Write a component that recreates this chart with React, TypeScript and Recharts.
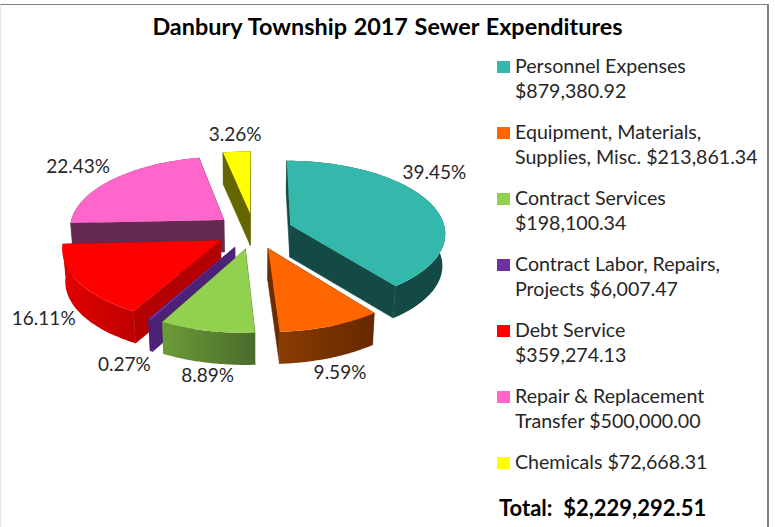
import { PieChart, Pie, Legend } from 'recharts';

const names = [
  'Personnel Expenses\n$879,380.92',
  'Equipment, Materials,\nSupplies, Misc. $213,861.34',
  'Contract Services\n$198,100.34',
  'Contract Labor, Repairs,\nProjects $6,007.47',
  'Debt Service\n$359,274.13',
  'Repair & Replacement\nTransfer $500,000.00',
  'Chemicals $72,668.31',
];
const amounts = [879380.92, 213861.34, 198100.34, 6007.47, 359274.13, 500000.0, 72668.31];
const percents = ['39.45%', '9.59%', '8.89%', '0.27%', '16.11%', '22.43%', '3.26%'];

const topColors = ['#33B8AB', '#FF6600', '#92D050', '#7030A0', '#FF0000', '#FF66CC', '#FFFF00'];
const wallLeft = ['#134A45', '#8A3C00', '#6C9C38', '#4B2275', '#E20000', '#652A52', '#666600'];
const wallRight = ['#134A45', '#662800', '#4A6B2C', '#4B2275', '#BE0000', '#652A52', '#666600'];
const sideColors = ['#134A45', '#6B2C00', '#4A6B2C', '#4B2275', '#B30000', '#652A52', '#666600'];
const labelNudge = [[-4, -30], [17, 55], [-4, 54], [-35, 52], [-44, 39], [-22, -9], [1, -6]];

// drawn back to front, so the table runs counter-clockwise from 12 o'clock
const slices = names
  .map((name, i) => ({
    name,
    value: amounts[i],
    pct: percents[i],
    fill: topColors[i],
    idx: i,
  }))
  .reverse();

const TILT = 0.47;
const PERSPECTIVE = 0.1;
const EXPLODE = 0.25;
const DEPTH = 32;
const RAD = Math.PI / 180;

function project(cx: number, cy: number, r: number, ux: number, uy: number) {
  const s = 1 + PERSPECTIVE * uy;
  return [cx + ux * r * s, cy + uy * r * TILT * s];
}

const toPath = (pts: number[][]) =>
  pts.map((p, i) => `${i === 0 ? 'M' : 'L'}${p[0].toFixed(1)},${p[1].toFixed(1)}`).join(' ') + ' Z';

function Slice3D(props: any) {
  const { cx, cy, outerRadius: r, startAngle, endAngle, fill } = props;
  const idx = props.idx ?? props.payload?.idx;
  const mid = ((startAngle + endAngle) / 2) * RAD;
  const ox = Math.cos(mid) * EXPLODE;
  const oy = -Math.sin(mid) * EXPLODE;

  const apex = project(cx, cy, r, ox, oy);
  const arc: number[][] = [];
  const steps = Math.max(2, Math.ceil(Math.abs(endAngle - startAngle)));
  for (let k = 0; k <= steps; k++) {
    const a = (startAngle + ((endAngle - startAngle) * k) / steps) * RAD;
    arc.push(project(cx, cy, r, ox + Math.cos(a), oy - Math.sin(a)));
  }
  const drop = (p: number[]) => [cx + (p[0] - cx) * 0.985, p[1] + DEPTH];
  const first = arc[0];
  const last = arc[arc.length - 1];
  const gradId = `wall-${idx}`;

  return (
    <g>
      <defs>
        <linearGradient id={gradId} x1="0" x2="1" y1="0" y2="0">
          <stop offset="0%" stopColor={wallLeft[idx]} />
          <stop offset="100%" stopColor={wallRight[idx]} />
        </linearGradient>
      </defs>
      <path d={toPath([apex, first, drop(first), drop(apex)])} fill={sideColors[idx]} stroke={sideColors[idx]} strokeWidth={0.6} />
      <path d={toPath([apex, last, drop(last), drop(apex)])} fill={sideColors[idx]} stroke={sideColors[idx]} strokeWidth={0.6} />
      <path d={toPath([...arc, ...arc.map(drop).reverse()])} fill={`url(#${gradId})`} />
      <path d={toPath([apex, ...arc])} fill={fill} />
    </g>
  );
}

function renderPercent(props: any) {
  const { cx, cy, midAngle, outerRadius } = props;
  const row = props.payload ?? props;
  const a = midAngle * RAD;
  const reach = outerRadius + outerRadius * 0.258;
  const n = labelNudge[row.idx];
  return (
    <text
      x={cx + Math.cos(a) * reach + n[0]}
      y={cy - Math.sin(a) * reach * TILT + n[1]}
      fill="#262626"
      textAnchor="middle"
      dominantBaseline="central"
      fontSize={19}
    >
      {row.pct}
    </text>
  );
}

function LegendList({ payload }: any) {
  const rows = [...(payload ?? [])].reverse();
  return (
    <div>
      {rows.map((entry: any) => (
        <div key={entry.value} style={{ position: 'relative', height: 66, paddingLeft: 18 }}>
          <span
            style={{
              position: 'absolute',
              left: 0,
              top: 8,
              width: 13,
              height: 12,
              background: entry.color,
            }}
          />
          <div style={{ whiteSpace: 'pre-line', lineHeight: '25px', fontSize: 19.6, color: '#262626' }}>
            {entry.value}
          </div>
        </div>
      ))}
    </div>
  );
}

export default function App() {
  return (
    <div
      style={{
        position: 'absolute',
        left: 0,
        top: 0,
        width: 775,
        height: 527,
        background: '#fff',
        fontFamily: 'Lato, sans-serif',
      }}
    >
      <div
        style={{
          position: 'absolute',
          left: 0,
          top: 4,
          width: 766,
          height: 523,
          borderTop: '1px solid #808080',
          borderRight: '2px solid #808080',
          borderLeft: '1px solid #e8e8e8',
        }}
      />
      <div style={{ position: 'absolute', left: 0, top: 0 }}>
        <PieChart width={775} height={527} margin={{ top: 0, right: 0, bottom: 0, left: 0 }}>
          <text
            x={387.5}
            y={26}
            textAnchor="middle"
            dominantBaseline="central"
            fontSize={23.4}
            wordSpacing={1}
            fontWeight={700}
            fill="#000"
          >
            Danbury Township 2017 Sewer Expenditures
          </text>
          <Pie
            data={slices}
            dataKey="value"
            nameKey="name"
            cx={254}
            cy={231}
            outerRadius={155}
            startAngle={90}
            endAngle={450}
            stroke="none"
            shape={Slice3D}
            label={renderPercent}
            labelLine={false}
            isAnimationActive={false}
          />
          <Legend
            content={<LegendList />}
            itemSorter={null}
            wrapperStyle={{ position: 'absolute', left: 497, top: 53, width: 275, height: 460 }}
          />
          <text x={499} y={507} dominantBaseline="central" fontSize={22} fontWeight={700} fill="#000">
            {'Total:\u00A0\u00A0$2,229,292.51'}
          </text>
        </PieChart>
      </div>
    </div>
  );
}
